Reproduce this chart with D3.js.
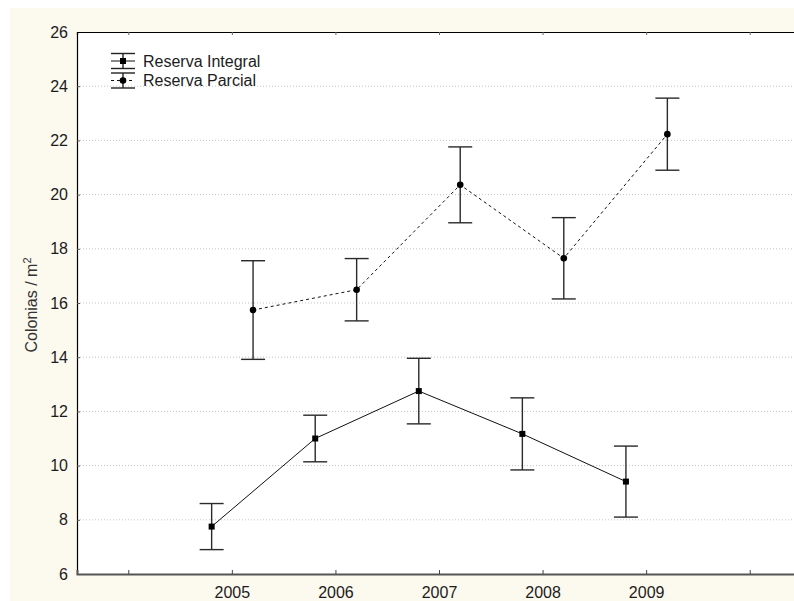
<!DOCTYPE html>
<html>
<head>
<meta charset="utf-8">
<script src="https://cdn.jsdelivr.net/npm/d3@7"></script>
<style>
  html, body { margin: 0; padding: 0; background: #ffffff; }
  svg { display: block; font-family: "Liberation Sans", Arial, sans-serif; }
</style>
</head>
<body>
<svg id="chart" width="794" height="601"></svg>
<script>
// Category axis: empty slots at both ends, years in between
const tickLabels = ["", "2005", "2006", "2007", "2008", "2009", ""];
const years = ["2005", "2006", "2007", "2008", "2009"];

// Reserva Integral: mean and half-width of the interval
const integralMean = [7.75, 11.0, 12.75, 11.17, 9.41];
const integralErr  = [0.85, 0.86, 1.21, 1.33, 1.31];

// Reserva Parcial: mean and half-width of the interval
const parcialMean = [15.74, 16.49, 20.36, 17.65, 22.23];
const parcialErr  = [1.82, 1.15, 1.40, 1.50, 1.33];

const yTicks = [6, 8, 10, 12, 14, 16, 18, 20, 22, 24, 26];

const W = 794, H = 601;
const plot = { left: 77, top: 32, right: 802, bottom: 574 };

const svg = d3.select("#chart");

// Cream frame and white plotting area
svg.append("rect").attr("x", 10).attr("y", 8).attr("width", W - 10).attr("height", H - 8)
  .attr("fill", "#fcf9ef");
svg.append("rect").attr("x", plot.left).attr("y", plot.top)
  .attr("width", W - plot.left).attr("height", plot.bottom - plot.top)
  .attr("fill", "#ffffff");

const x = d3.scaleBand()
  .domain(d3.range(tickLabels.length))
  .range([plot.left, plot.right])
  .paddingInner(0).paddingOuter(0);
const xc = i => x(i) + x.bandwidth() / 2;
const step = x.step();

const y = d3.scaleLinear().domain([6, 26]).range([plot.bottom, plot.top]);

// Dotted horizontal grid
svg.append("g").selectAll("line")
  .data(yTicks.filter(t => t > 6 && t < 26))
  .join("line")
  .attr("x1", plot.left).attr("x2", W)
  .attr("y1", d => y(d)).attr("y2", d => y(d))
  .attr("stroke", "#c4c4c4").attr("stroke-width", 1)
  .attr("stroke-dasharray", "1,2");

// Y axis
const yAxis = d3.axisLeft(y).tickValues(yTicks).tickSize(-3).tickPadding(9);
const gy = svg.append("g").attr("transform", `translate(${plot.left},0)`).call(yAxis);
gy.select(".domain").attr("stroke", "#000").attr("stroke-width", 1.2);
gy.selectAll(".tick line").attr("stroke", "#555");
gy.selectAll(".tick text").attr("font-size", 16).attr("fill", "#1c1c1c")
  .attr("font-family", "'Liberation Sans', Arial, sans-serif");

// X axis (bottom)
const xAxis = d3.axisBottom(x).tickFormat(i => tickLabels[i]).tickSize(-4).tickPadding(13);
const gx = svg.append("g").attr("transform", `translate(0,${plot.bottom})`).call(xAxis);
gx.select(".domain").attr("stroke", "#555").attr("stroke-width", 2);
gx.selectAll(".tick line").attr("stroke", "#444");
gx.selectAll(".tick text").attr("font-size", 16).attr("fill", "#1c1c1c")
  .attr("font-family", "'Liberation Sans', Arial, sans-serif");

// Top frame line with ticks
const xTop = d3.axisTop(x).tickFormat("").tickSize(-3);
const gt = svg.append("g").attr("transform", `translate(0,${plot.top})`).call(xTop);
gt.select(".domain").attr("stroke", "#000").attr("stroke-width", 1.2);
gt.selectAll(".tick line").attr("stroke", "#666");

// Y axis title
svg.append("text")
  .attr("transform", `translate(37,${(plot.top + plot.bottom) / 2 + 2}) rotate(-90)`)
  .attr("text-anchor", "middle")
  .attr("font-size", 16).attr("fill", "#333")
  .text("Colonias / m")
  .append("tspan").attr("dy", -6).attr("font-size", 11).text("2");

// Series definitions
const series = [
  { name: "Reserva Integral", mean: integralMean, err: integralErr, offset: -0.2, dash: null, marker: "square" },
  { name: "Reserva Parcial", mean: parcialMean, err: parcialErr, offset: 0.2, dash: "3,3", marker: "circle" }
];

const capW = 24;

series.forEach(s => {
  const pts = years.map((yr, i) => ({
    x: xc(i + 1) + s.offset * step,
    m: s.mean[i], e: s.err[i]
  }));
  const g = svg.append("g");

  // connecting line
  g.append("path")
    .datum(pts)
    .attr("d", d3.line().x(d => d.x).y(d => y(d.m)))
    .attr("fill", "none").attr("stroke", "#111").attr("stroke-width", 1)
    .attr("stroke-dasharray", s.dash);

  // whiskers
  const eb = g.selectAll("g.eb").data(pts).join("g").attr("class", "eb")
    .attr("stroke", "#2a2a2a").attr("stroke-width", 1.4);
  eb.append("line").attr("x1", d => d.x).attr("x2", d => d.x)
    .attr("y1", d => y(d.m + d.e)).attr("y2", d => y(d.m - d.e));
  eb.append("line").attr("x1", d => d.x - capW / 2).attr("x2", d => d.x + capW / 2)
    .attr("y1", d => y(d.m + d.e)).attr("y2", d => y(d.m + d.e));
  eb.append("line").attr("x1", d => d.x - capW / 2).attr("x2", d => d.x + capW / 2)
    .attr("y1", d => y(d.m - d.e)).attr("y2", d => y(d.m - d.e));

  // markers
  if (s.marker === "square") {
    g.selectAll("rect.mk").data(pts).join("rect").attr("class", "mk")
      .attr("x", d => d.x - 3).attr("y", d => y(d.m) - 3)
      .attr("width", 6).attr("height", 6).attr("fill", "#000");
  } else {
    g.selectAll("circle.mk").data(pts).join("circle").attr("class", "mk")
      .attr("cx", d => d.x).attr("cy", d => y(d.m)).attr("r", 3.3).attr("fill", "#000");
  }
});

// Legend
const legend = svg.append("g").attr("transform", "translate(111,61)");
series.forEach((s, i) => {
  const g = legend.append("g").attr("transform", `translate(0,${i * 19.5})`);
  g.append("line").attr("x1", 0).attr("x2", 24).attr("y1", -7.5).attr("y2", -7.5)
    .attr("stroke", "#222").attr("stroke-width", 1.4);
  g.append("line").attr("x1", 0).attr("x2", 24).attr("y1", 7.5).attr("y2", 7.5)
    .attr("stroke", "#222").attr("stroke-width", 1.4);
  g.append("line").attr("x1", 12).attr("x2", 12).attr("y1", -7.5).attr("y2", 7.5)
    .attr("stroke", "#222").attr("stroke-width", 1.4);
  g.append("line").attr("x1", 0).attr("x2", 24).attr("y1", 0).attr("y2", 0)
    .attr("stroke", "#111").attr("stroke-width", 1).attr("stroke-dasharray", s.dash);
  if (s.marker === "square") {
    g.append("rect").attr("x", 9).attr("y", -3).attr("width", 6).attr("height", 6).attr("fill", "#000");
  } else {
    g.append("circle").attr("cx", 12).attr("cy", 0).attr("r", 3.3).attr("fill", "#000");
  }
  g.append("text").attr("x", 32).attr("y", 5.5).attr("font-size", 16).attr("fill", "#1c1c1c")
    .text(s.name);
});
</script>
</body>
</html>
